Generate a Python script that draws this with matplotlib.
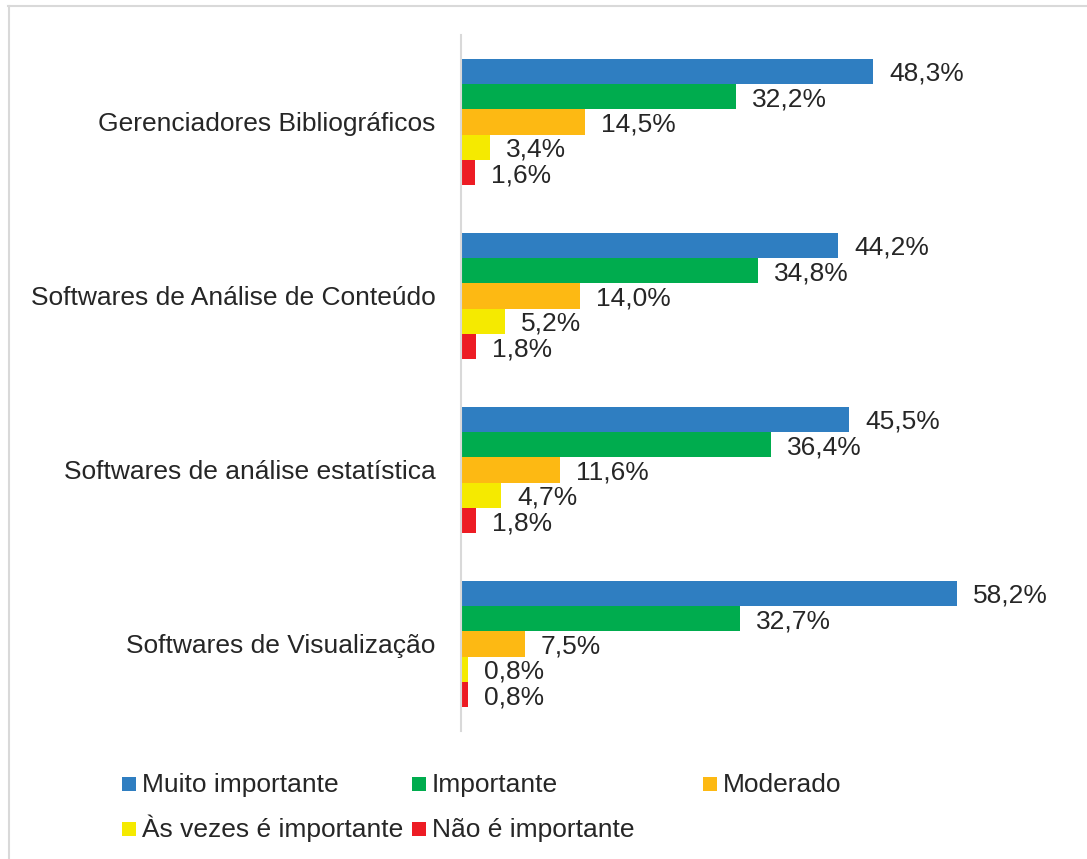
import matplotlib
matplotlib.use("Agg")
import matplotlib.pyplot as plt
from matplotlib.lines import Line2D
from matplotlib.patches import Rectangle

plt.rcParams['font.family'] = ['Liberation Sans', 'DejaVu Sans']

categories = ["Gerenciadores Bibliográficos",
              "Softwares de Análise de Conteúdo",
              "Softwares de análise estatística",
              "Softwares de Visualização"]
series_names = ["Muito importante", "Importante", "Moderado",
                "Às vezes é importante", "Não é importante"]
muito = [48.3, 44.2, 45.5, 58.2]
importante = [32.2, 34.8, 36.4, 32.7]
moderado = [14.5, 14.0, 11.6, 7.5]
as_vezes = [3.4, 5.2, 4.7, 0.8]
nao = [1.6, 1.8, 1.8, 0.8]
series_values = [muito, importante, moderado, as_vezes, nao]
colors = ['#2F7EC1', '#00AC4E', '#FDB913', '#F5EA00', '#ED1C24']

W, H = 1087, 859
fig = plt.figure(figsize=(W / 100, H / 100), dpi=100)

ax_left, ax_right = 461, 1058
ax_top, ax_bottom = 35, 731
ax = fig.add_axes([ax_left / W, (H - ax_bottom) / H,
                   (ax_right - ax_left) / W, (ax_bottom - ax_top) / H])

txt_color = '#262626'
fs = 19
h = 0.1455
n = len(series_values)
for j, (vals, col) in enumerate(zip(series_values, colors)):
    ys = [i + (j - (n - 1) / 2) * h for i in range(len(categories))]
    ax.barh(ys, vals, height=h, color=col, edgecolor='none')
    for y, v in zip(ys, vals):
        ax.annotate(f"{v:.1f}%".replace('.', ','), (v, y), xytext=(11.5, -1.8),
                    textcoords='offset points', va='center', ha='left',
                    fontsize=fs, color=txt_color)

ax.set_xlim(0, 70)
ax.set_ylim(len(categories) - 0.5, -0.5)
ax.set_yticks(range(len(categories)))
ax.set_yticklabels(categories, fontsize=fs, color=txt_color)
ax.tick_params(axis='y', length=0, pad=18.5)
ax.set_xticks([])
for s in ['top', 'right', 'bottom']:
    ax.spines[s].set_visible(False)
ax.spines['left'].set_color('#D9D9D9')
ax.spines['left'].set_linewidth(1.5)

# Legend (manual, Excel-like equal columns)
sq = 14
col_x = [122, 412, 703]
row_c = [783.7, 828.7]
for k, (name, col) in enumerate(zip(series_names, colors)):
    r, c = divmod(k, 3)
    x0 = col_x[c]
    yc = row_c[r]
    fig.add_artist(Rectangle((x0 / W, (H - yc - sq / 2) / H), sq / W, sq / H,
                             transform=fig.transFigure, facecolor=col,
                             edgecolor='none'))
    fig.text((x0 + sq + 6) / W, (H - (yc + 8.5)) / H, name, fontsize=fs,
             color=txt_color, ha='left', va='baseline')

# Chart border (top and left visible)
bcol = '#D9D9D9'
fig.add_artist(Line2D([8 / W, 1.0], [(H - 6) / H, (H - 6) / H],
                      transform=fig.transFigure, color=bcol, linewidth=1.5))
fig.add_artist(Line2D([9 / W, 9 / W], [0, (H - 6) / H],
                      transform=fig.transFigure, color=bcol, linewidth=1.5))

fig.savefig("out.png", dpi=100, facecolor='white')
